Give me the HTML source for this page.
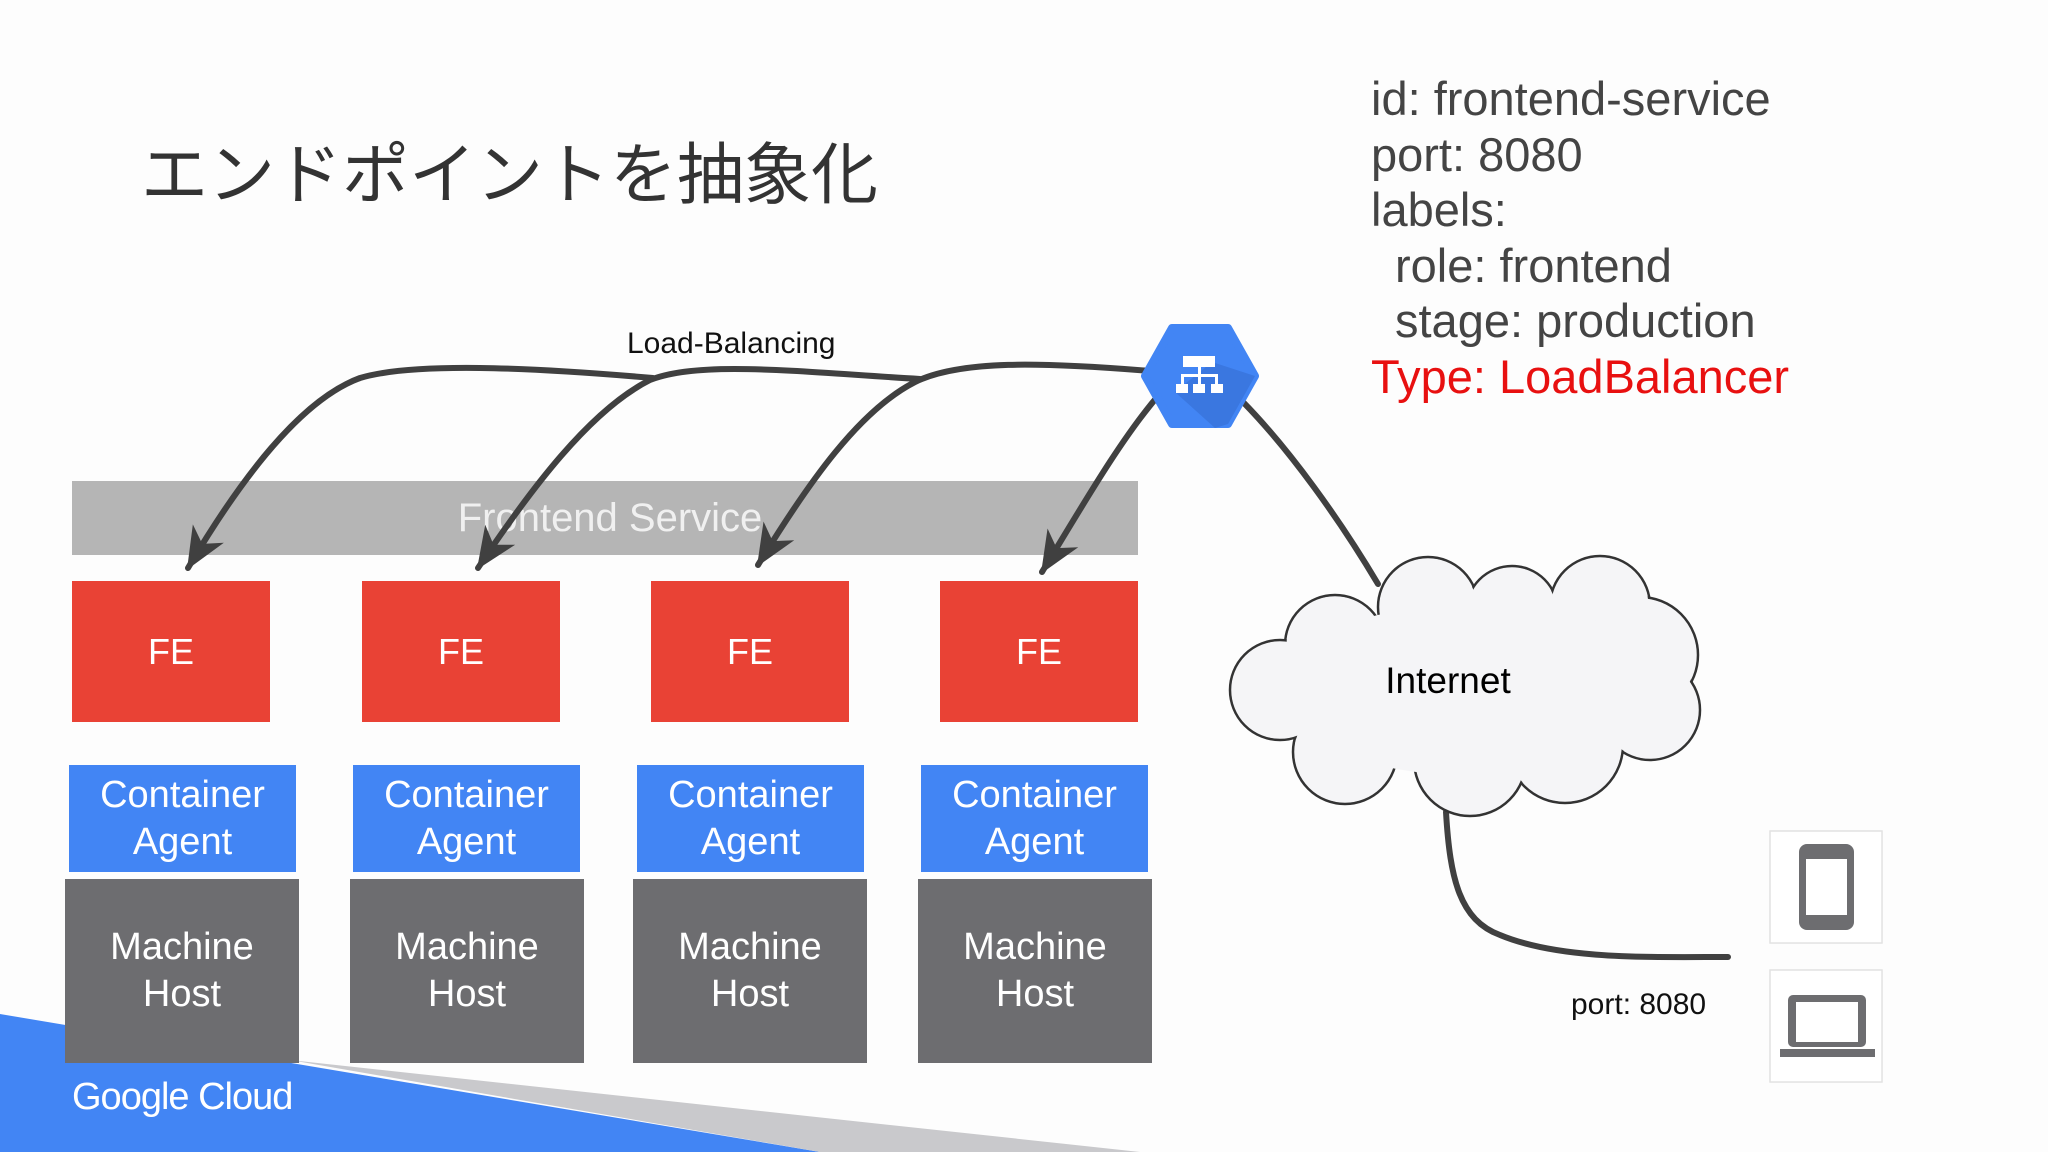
<!DOCTYPE html>
<html><head><meta charset="utf-8"><style>
*{margin:0;padding:0;box-sizing:border-box}
body{width:2048px;height:1152px;overflow:hidden;background:#fdfdfd;position:relative;font-family:"Liberation Sans","Noto Sans CJK JP",sans-serif}
.a{position:absolute}
.box{position:absolute;display:flex;align-items:center;justify-content:center;text-align:center;color:#fff}
.fe{background:#e94235;top:581px;height:141px;width:198px;font-size:36px}
.ca{background:#4285f4;top:765px;height:107px;width:227px;font-size:38px;line-height:47px}
.mh{background:#6d6d70;top:879px;height:184px;width:234px;font-size:38px;line-height:47px}
.rt{position:absolute;left:1371px;font-size:47px;color:#444;line-height:56px}
</style></head><body>
<svg class="a" style="left:0;top:0" width="2048" height="1152">
<polygon points="0,1014 820,1152 0,1152" fill="#4285f4"/>
<polygon points="290,1060 1140,1152 820,1152" fill="#c9c9cc"/>
</svg>
<div class="a" style="left:141px;top:125px;font-size:67px;color:#333;font-family:'Noto Sans CJK JP',sans-serif;line-height:90px">エンドポイントを抽象化</div>
<div class="rt" style="top:71px">id: frontend-service</div>
<div class="rt" style="top:127px">port: 8080</div>
<div class="rt" style="top:182px">labels:</div>
<div class="rt" style="top:238px;left:1395px">role: frontend</div>
<div class="rt" style="top:293px;left:1395px">stage: production</div>
<div class="rt" style="top:349px;color:#e81010">Type: LoadBalancer</div>
<div class="a" style="left:627px;top:327px;font-size:30px;color:#111">Load-Balancing</div>
<div class="box" style="left:72px;top:481px;width:1066px;height:74px;background:#b5b5b5;font-size:40px;color:#f0f0f0;padding-left:10px">Frontend Service</div>
<div class="box fe" style="left:72px">FE</div>
<div class="box fe" style="left:362px">FE</div>
<div class="box fe" style="left:651px">FE</div>
<div class="box fe" style="left:940px">FE</div>
<div class="box ca" style="left:69px">Container<br>Agent</div>
<div class="box ca" style="left:353px">Container<br>Agent</div>
<div class="box ca" style="left:637px">Container<br>Agent</div>
<div class="box ca" style="left:921px">Container<br>Agent</div>
<div class="box mh" style="left:65px">Machine<br>Host</div>
<div class="box mh" style="left:350px">Machine<br>Host</div>
<div class="box mh" style="left:633px">Machine<br>Host</div>
<div class="box mh" style="left:918px">Machine<br>Host</div>
<div class="a" style="left:72px;top:1076px;font-size:38px;color:#fff;letter-spacing:-1px">Google Cloud</div>
<svg class="a" style="left:0;top:0" width="2048" height="1152">
<defs>
<marker id="ar" markerWidth="12" markerHeight="12" refX="10" refY="6" orient="auto" markerUnits="userSpaceOnUse" viewBox="0 0 12 12" style="overflow:visible">
<path d="M12,6 L-30,-12 L-18,6 L-30,24 Z" fill="#404040"/>
</marker>
</defs>
<g fill="none" stroke="#404040" stroke-width="6" stroke-linecap="round">
<path d="M653,378 C560,370 420,360 360,378 C300,400 240,480 188,568" marker-end="url(#ar)"/>
<path d="M920,379 C800,372 700,360 650,380 C590,410 530,490 478,568" marker-end="url(#ar)"/>
<path d="M1150,371 C1040,362 960,360 915,382 C860,410 810,480 758,565" marker-end="url(#ar)"/>
<path d="M1158,396 C1120,440 1080,510 1042,572" marker-end="url(#ar)"/>
<path d="M1243,402 C1290,450 1340,520 1378,584"/>
<path d="M1446,812 C1450,880 1460,920 1500,935 C1560,960 1650,957 1728,957"/>
</g>
<g fill="#f5f5f7" stroke="#333" stroke-width="2.5">
<circle cx="1335" cy="645" r="50"/><circle cx="1428" cy="607" r="50"/><circle cx="1512" cy="612" r="46"/><circle cx="1600" cy="606" r="50"/><circle cx="1640" cy="655" r="58"/><circle cx="1650" cy="710" r="50"/><circle cx="1565" cy="745" r="58"/><circle cx="1470" cy="760" r="56"/><circle cx="1345" cy="752" r="52"/><circle cx="1280" cy="690" r="50"/>
</g>
<g fill="#f5f5f7">
<circle cx="1335" cy="645" r="48.5"/><circle cx="1428" cy="607" r="48.5"/><circle cx="1512" cy="612" r="44.5"/><circle cx="1600" cy="606" r="48.5"/><circle cx="1640" cy="655" r="56.5"/><circle cx="1650" cy="710" r="48.5"/><circle cx="1565" cy="745" r="56.5"/><circle cx="1470" cy="760" r="54.5"/><circle cx="1345" cy="752" r="50.5"/><circle cx="1280" cy="690" r="48.5"/>
<ellipse cx="1465" cy="690" rx="185" ry="85"/>
</g>
<text x="1448" y="693" font-family="Liberation Sans,sans-serif" font-size="37" text-anchor="middle" fill="#000">Internet</text>
<polygon points="1145,376 1172,328 1228,328 1255,376 1228,424 1172,424" fill="#4285f4" stroke="#4285f4" stroke-width="8" stroke-linejoin="round"/>
<polygon points="1212,362 1255,376 1228,424 1215,428 1175,392" fill="#3a77e0"/>
<g fill="#fff">
<rect x="1183" y="356" width="32" height="11"/><rect x="1198" y="367" width="3" height="8"/><rect x="1181" y="374" width="37" height="3"/><rect x="1181" y="374" width="3" height="10"/><rect x="1198" y="374" width="3" height="10"/><rect x="1215" y="374" width="3" height="10"/>
<rect x="1176" y="384" width="12" height="9"/><rect x="1193" y="384" width="12" height="9"/><rect x="1211" y="384" width="12" height="9"/>
</g>
<text x="1571" y="1014" font-family="Liberation Sans,sans-serif" font-size="30" fill="#111">port: 8080</text>
<g>
<rect x="1770" y="831" width="112" height="112" fill="#fff" stroke="#e2e2e2" stroke-width="1.5"/>
<rect x="1770" y="970" width="112" height="112" fill="#fff" stroke="#e2e2e2" stroke-width="1.5"/>
<rect x="1799" y="844" width="55" height="86" rx="8" fill="#6d6d70"/>
<rect x="1806" y="859" width="41" height="56" fill="#fff"/>
<rect x="1788" y="995" width="78" height="52" rx="5" fill="#6d6d70"/>
<rect x="1796" y="1002" width="62" height="40" fill="#fff"/>
<rect x="1780" y="1049" width="95" height="8" fill="#6d6d70"/>
</g>
</svg>
</body></html>
